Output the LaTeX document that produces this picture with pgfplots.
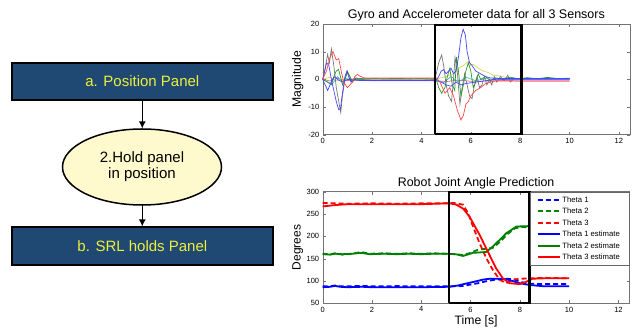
\documentclass[border=0pt]{standalone}
\usepackage{pgfplots}
\pgfplotsset{compat=1.18}
\usepackage{fontspec}
\setmainfont{Liberation Sans}
\usetikzlibrary{arrows.meta}
\definecolor{boxblue}{RGB}{31,73,115}
\definecolor{txtyellow}{RGB}{238,238,60}
\definecolor{ellfill}{RGB}{255,250,205}
\definecolor{sgray}{RGB}{120,120,120}
\definecolor{sblue}{RGB}{70,70,255}
\definecolor{sred}{RGB}{255,70,70}
\definecolor{sgreen}{RGB}{40,150,40}
\definecolor{syellow}{RGB}{215,215,90}
\definecolor{scyan}{RGB}{60,190,200}
\definecolor{smag}{RGB}{230,90,160}
\definecolor{mgreen}{RGB}{0,128,0}
\definecolor{mblue}{RGB}{0,0,255}
\definecolor{mred}{RGB}{255,0,0}
\begin{document}
\begin{tikzpicture}
\path (0pt,0pt) rectangle (644pt,331pt);
% ---------------- flowchart ----------------
\node[draw=black, line width=2pt, fill=boxblue, minimum width=261.3pt, minimum height=37.6pt, inner sep=0pt, text=txtyellow, font=\fontsize{15}{18}\selectfont] at (142.35pt,249.5pt) {a. Position Panel};
\node[draw=black, line width=2pt, fill=boxblue, minimum width=261.3pt, minimum height=38pt, inner sep=0pt, text=txtyellow, font=\fontsize{15}{18}\selectfont] at (142.35pt,85pt) {b. SRL holds Panel};
\draw[line width=1.5pt, fill=ellfill] (142pt,164pt) ellipse [x radius=79.5pt, y radius=38pt];
\node[align=center, font=\fontsize{15}{16}\selectfont] at (142pt,164pt) {2.Hold panel\\in position};
\draw[line width=1.5pt, -{Latex[length=7pt,width=7pt]}] (142.3pt,230.5pt) -- (142.3pt,202.5pt);
\draw[line width=1.5pt, -{Latex[length=7pt,width=7pt]}] (142.3pt,126pt) -- (142.3pt,104.5pt);
% ---------------- top axis ----------------
\begin{axis}[
  at={(322.7pt,196.3pt)}, anchor=south west, scale only axis,
  width=307.3pt, height=110.7pt,
  xmin=0, xmax=12.45, ymin=-20, ymax=20,
  xtick={0,2,...,12}, ytick={-20,-10,0,10,20},
  tick label style={font=\fontsize{7.5}{8}\selectfont},
  /pgf/number format/assume math mode=true,
  axis line style={black!55}, tick style={black!55}, major tick length=3pt,
  title={Gyro and Accelerometer data for all 3 Sensors},
  title style={font=\fontsize{12.5}{14}\selectfont, at={(axis description cs:0.5,1.081)}, anchor=center, yshift=-6pt},
  ylabel={Magnitude},
  ylabel style={font=\fontsize{12.2}{14}\selectfont, at={(axis description cs:-0.081,0.5)}, anchor=center},
  clip=false,
]
% magenta flat
\addplot[smag, line width=0.7pt] coordinates {(0,0) (0.3,-0.6) (0.6,0.4) (0.9,-0.5) (1.2,-0.3) (2,-0.5) (3,-0.5) (4,-0.5) (4.6,-0.5) (5.0,-0.8) (5.5,-0.3) (6,-0.7) (7,-0.6) (8,-0.6) (9,-0.6) (10,-0.6)};
% cyan
\addplot[scyan, line width=0.7pt] coordinates {(0,0) (0.2,-1) (0.4,-1.5) (0.6,1) (0.8,-0.8) (1.0,0.5) (1.2,-0.3) (1.5,0) (2,-0.2) (3,-0.2) (4,-0.2) (4.6,-0.2) (4.9,-1.2) (5.2,1) (5.5,-1) (5.8,0.8) (6.2,-0.5) (6.6,0.3) (7,-0.2) (8,-0.1) (9,-0.1) (10,-0.1)};
% yellow
\addplot[syellow, line width=0.7pt] coordinates {(0,0) (0.3,0.8) (0.6,-0.5) (1,0.3) (1.5,0.1) (2,0.1) (4.6,0.1) (5.0,1) (5.3,2) (5.5,4) (5.7,5) (5.9,6.5) (6.0,5) (6.1,5.5) (6.3,4) (6.5,3) (6.7,2.5) (6.9,1.5) (7.2,1.2) (7.5,0.5) (8,0.3) (9,0.2) (10,0.2)};
% gray
\addplot[sgray, line width=0.7pt] coordinates {(0,0) (0.1,4) (0.2,9) (0.27,6) (0.35,11) (0.45,5) (0.55,-3) (0.65,-8) (0.73,-12) (0.8,-6) (0.9,0) (1.0,3) (1.1,1) (1.2,-1) (1.3,0.5) (1.5,0.3) (2,0.2) (3,0.3) (4,0.2) (4.5,0.2) (4.6,2) (4.7,6) (4.82,8.8) (4.9,5) (5.0,-2) (5.1,-6) (5.22,-8) (5.3,0) (5.36,8) (5.45,3) (5.56,-9) (5.65,-3) (5.75,2) (5.85,-2) (5.95,-6) (6.05,-7) (6.15,-2) (6.25,1) (6.35,-3) (6.45,-2) (6.55,1) (6.65,-2) (6.75,0) (6.85,-2) (6.95,1) (7.05,-1) (7.2,1) (7.35,-0.5) (7.5,1.5) (7.6,-1) (7.75,0.3) (8,0.2) (9,0.2) (10,0.2)};
% green
\addplot[sgreen, line width=0.7pt] coordinates {(0,0) (0.2,-1) (0.35,-2) (0.45,1) (0.55,3) (0.64,3.6) (0.72,1) (0.8,-2) (0.9,0) (1.0,2.5) (1.1,1) (1.2,-1) (1.35,0.5) (1.5,0) (2,0.2) (3,0.1) (4,0.2) (4.6,0) (4.7,-3) (4.82,-5) (4.95,-3) (5.05,1) (5.15,4) (5.25,-2) (5.35,-4) (5.42,8) (5.5,3) (5.6,-6) (5.7,-2) (5.8,3) (5.9,6) (6.0,3) (6.1,-3) (6.2,-1) (6.3,2) (6.4,0) (6.6,1) (6.8,-0.5) (7.0,0.5) (7.3,0) (7.6,0.8) (7.9,0.2) (8.3,0.6) (8.7,0.2) (9.1,0.7) (9.5,0.3) (10,0.4)};
% blue 2
\addplot[sblue, line width=0.7pt] coordinates {(0,0) (0.1,-2) (0.2,-4) (0.3,-2) (0.4,0) (0.5,1) (0.6,0) (0.8,-1) (1.0,0) (1.5,-0.4) (2,-0.4) (3,-0.4) (4,-0.4) (4.6,-0.5) (4.8,-1) (5.0,-2) (5.2,-2.5) (5.4,-1) (5.6,-2) (5.8,-1.5) (6.2,-1) (6.6,-0.5) (7,0) (8,0) (9,0) (10,0)};
% blue big
\addplot[sblue, line width=0.7pt] coordinates {(0,0) (0.08,3) (0.16,6) (0.25,5) (0.35,0) (0.45,-4) (0.55,-8) (0.65,-11) (0.72,-10.5) (0.8,-5) (0.9,1) (0.98,3) (1.05,1) (1.15,-1) (1.25,0) (1.5,-0.3) (2,-0.3) (3,-0.3) (4,-0.3) (4.6,-0.3) (4.7,1) (4.8,3) (4.9,3.5) (5.0,2) (5.1,3) (5.2,4) (5.3,2) (5.4,3) (5.5,8) (5.6,15) (5.69,18.1) (5.78,16) (5.85,10) (5.95,6) (6.05,5) (6.2,3) (6.4,2) (6.6,1) (6.8,0.5) (7.2,0.3) (8,0.3) (9,0.3) (10,0.3)};
% red
\addplot[sred, line width=0.7pt] coordinates {(0,0) (0.15,3) (0.3,8) (0.42,10) (0.55,7) (0.65,7.5) (0.75,3) (0.85,-1) (1.0,-3) (1.1,-2) (1.2,-1) (1.3,1) (1.4,1.8) (1.5,1.2) (1.7,0.5) (2,0.5) (3,0.5) (4,0.5) (4.6,0.5) (4.75,-1) (4.85,-3) (4.95,-5) (5.05,-4) (5.15,-3) (5.3,-6) (5.45,-11) (5.6,-14.7) (5.7,-13) (5.8,-9) (5.9,-8) (6.0,-6) (6.2,-4) (6.4,-3) (6.6,-1.5) (6.8,-1) (7.0,-0.5) (7.5,-0.5) (8,-0.6) (9,-0.6) (10,-0.6)};
% highlight box
\addplot[black, line width=2.5pt, forget plot] coordinates {(4.55,-19.7) (8.05,-19.7) (8.05,19.7) (4.55,19.7) (4.55,-19.7)};
\end{axis}
% ---------------- bottom axis ----------------
\begin{axis}[
  at={(322.7pt,27.7pt)}, anchor=south west, scale only axis,
  width=306.8pt, height=111.6pt,
  xmin=0, xmax=12.45, ymin=50, ymax=300,
  xtick={0,2,...,12}, ytick={50,100,...,300},
  tick label style={font=\fontsize{7.5}{8}\selectfont},
  /pgf/number format/assume math mode=true,
  axis line style={black!55}, tick style={black!55}, major tick length=3pt,
  title={Robot Joint Angle Prediction},
  title style={font=\fontsize{12.4}{14}\selectfont, at={(axis description cs:0.5,1.075)}, anchor=center, yshift=-6pt},
  ylabel={Degrees},
  ylabel style={font=\fontsize{12}{14}\selectfont, at={(axis description cs:-0.081,0.5)}, anchor=center},
  xlabel={Time [s]},
  xlabel style={font=\fontsize{12.2}{14}\selectfont, at={(axis description cs:0.5,-0.165)}, anchor=center},
  clip=false,
  legend style={at={(1,1)}, anchor=north east, draw=black!60, font=\fontsize{7.7}{9}\selectfont,
    inner xsep=6pt, inner ysep=2pt, row sep=0pt,
    nodes={text height=5.8pt, text depth=0.6pt, inner ysep=2.55pt}},
  legend cell align=left,
  legend image code/.code={\draw[mark repeat=2,mark phase=2,#1] plot coordinates {(0pt,0pt) (11pt,0pt) (22pt,0pt)};},
]
\addplot[mblue, line width=1.8pt, dash pattern=on 5pt off 3pt] coordinates {(0,88) (0.3,88) (0.5,90) (0.7,88) (1,88) (1.6,89) (2,88) (3,88.5) (4,88) (5,88) (5.3,88) (5.7,89) (6.0,92) (6.3,95) (6.6,99) (7.0,103) (7.5,105) (7.8,103) (8.0,98) (8.4,94) (9,93) (10,93)};
\addlegendentry{Theta 1}
\addplot[mgreen, line width=1.8pt, dash pattern=on 5pt off 3pt] coordinates {(0,161) (0.3,160) (0.5,162) (0.8,159) (1.2,161) (1.56,165) (1.9,161) (2.5,162) (3,161) (3.5,162) (4,161) (4.5,162) (5,161) (5.4,160) (5.7,158) (6.0,163) (6.3,170) (6.6,172) (6.9,174) (7.2,188) (7.5,205) (7.8,218) (8.1,221) (8.4,220)};
\addlegendentry{Theta 2}
\addplot[mred, line width=1.8pt, dash pattern=on 5pt off 3pt] coordinates {(0,275) (0.5,274) (1,273) (2,274) (3,273) (4,274) (5,274) (5.29,275) (5.69,271) (5.9,252) (6.1,222) (6.37,184) (6.64,151) (6.9,125) (7.18,103) (7.45,95) (7.72,103) (8.0,105) (8.5,106) (9,107) (10,106)};
\addlegendentry{Theta 3}
\addplot[mblue, line width=1.8pt] coordinates {(0,86) (0.3,87) (0.5,89) (0.7,87) (1,86) (1.6,87) (2,86) (3,86) (4,86) (5.15,87) (5.5,90) (5.8,94) (6.2,99) (6.5,103) (6.77,105) (7.1,105) (7.45,104) (7.7,100) (7.99,95) (8.4,91) (9,88) (10,88)};
\addlegendentry{Theta 1 estimate\rule{1.5pt}{0pt}}
\addplot[mgreen, line width=1.8pt] coordinates {(0,160) (0.3,159) (0.5,161) (0.8,160) (1.2,161) (1.56,163) (1.9,160) (2.5,161) (3,160) (3.5,161) (4,160) (4.5,161) (5,161) (5.4,160) (5.69,156) (6.1,163) (6.64,165) (6.9,177) (7.18,192) (7.45,207) (7.86,222) (8.4,223)};
\addlegendentry{Theta 2 estimate\rule{1.5pt}{0pt}}
\addplot[mred, line width=1.8pt] coordinates {(0,267) (0.5,270) (1,272) (2,272) (3,272) (4,272) (5.15,274) (5.42,271) (5.7,262) (5.96,244) (6.37,203) (6.77,158) (7.04,128) (7.31,106) (7.58,95) (7.99,93) (8.26,98) (8.5,105) (9,106) (10,106)};
\addlegendentry{Theta 3 estimate\rule{1.5pt}{0pt}}
\addplot[black, line width=2.5pt, forget plot] coordinates {(5.12,51) (8.39,51) (8.39,299) (5.12,299) (5.12,51)};
\end{axis}
\end{tikzpicture}
\end{document}
